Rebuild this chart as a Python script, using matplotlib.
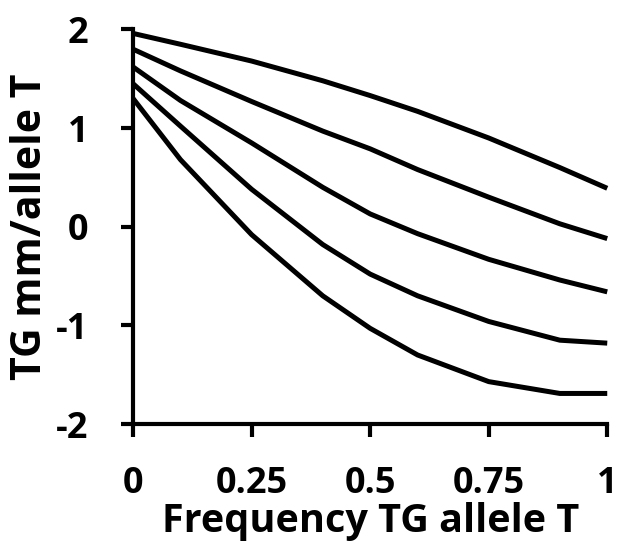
import matplotlib
matplotlib.use("Agg")
import matplotlib.pyplot as plt

# frequency of TG allele T
freq = [0, 0.1, 0.25, 0.4, 0.5, 0.6, 0.75, 0.9, 1]

# TG mm per allele T, one curve per scenario (top to bottom)
curve_1 = [1.96, 1.85, 1.68, 1.48, 1.33, 1.17, 0.90, 0.60, 0.39]
curve_2 = [1.80, 1.58, 1.27, 0.97, 0.79, 0.58, 0.30, 0.03, -0.12]
curve_3 = [1.62, 1.28, 0.85, 0.40, 0.13, -0.07, -0.33, -0.54, -0.66]
curve_4 = [1.45, 1.02, 0.38, -0.18, -0.48, -0.70, -0.96, -1.15, -1.18]
curve_5 = [1.30, 0.68, -0.08, -0.70, -1.03, -1.30, -1.57, -1.69, -1.69]

x_ticks = [0, 0.25, 0.5, 0.75, 1]
x_ticklabels = ["0", "0.25", "0.5", "0.75", "1"]
y_ticks = [-2, -1, 0, 1, 2]

plt.rcParams['font.family'] = ['Open Sans', 'DejaVu Sans']
plt.rcParams['font.weight'] = 'bold'
plt.rcParams['axes.unicode_minus'] = False

fig = plt.figure(figsize=(6.19, 5.46), dpi=100)
ax = fig.add_axes([0.215, 0.2234, 0.766, 0.7226])

for ys in [curve_1, curve_2, curve_3, curve_4, curve_5]:
    ax.plot(freq, ys, color='black', linewidth=3.6, solid_capstyle='butt',
            solid_joinstyle='round', clip_on=False)

ax.set_xlim(0, 1)
ax.set_ylim(-2, 2)
ax.set_xticks(x_ticks)
ax.set_xticklabels(x_ticklabels)
ax.set_yticks(y_ticks)

for side in ['top', 'right']:
    ax.spines[side].set_visible(False)
for side in ['left', 'bottom']:
    ax.spines[side].set_linewidth(3)

ax.tick_params(axis='both', direction='out', length=9, width=3,
               labelsize=26)
ax.tick_params(axis='x', pad=21)
ax.tick_params(axis='y', pad=23)

ax.set_xlabel("Frequency TG allele T", fontsize=28.5, fontweight='bold', labelpad=0)
ax.set_ylabel("TG mm/allele T", fontsize=29.5, fontweight='bold', labelpad=4)

fig.savefig("out.png", dpi=100)
